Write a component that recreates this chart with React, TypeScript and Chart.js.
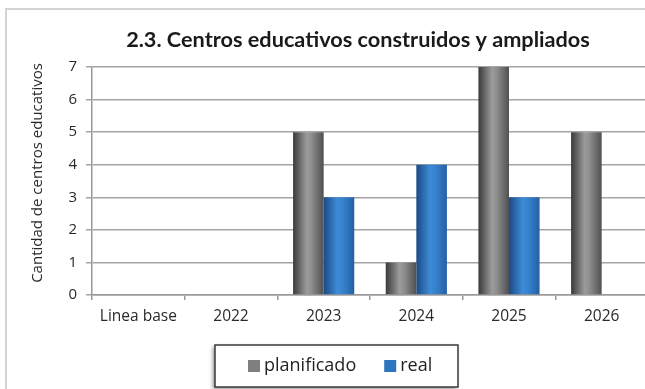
import React, { useEffect, useRef } from "react";
import { Chart, registerables } from "chart.js";

Chart.register(...registerables);

const categories = ["Linea base", "2022", "2023", "2024", "2025", "2026"];
const planificado: (number | null)[] = [null, null, 5, 1, 7, 5];
const real: (number | null)[] = [null, null, 3, 4, 3, null];
const seriesNames = ["planificado", "real"];
const titleText = "2.3. Centros educativos construidos y ampliados";
const yAxisTitle = "Cantidad de centros educativos";
const yMin = 0;
const yMax = 7;
const yStep = 1;

const SERIES_COLORS = ["#7f7f7f", "#2e75c0"];
const GRADIENTS = [
  [
    [0, "#3a3a3a"],
    [0.45, "#9c9c9c"],
    [0.6, "#8e8e8e"],
    [1, "#505050"],
  ],
  [
    [0, "#1c4a86"],
    [0.45, "#3d8bd6"],
    [0.65, "#3580cc"],
    [1, "#245fa4"],
  ],
];

const FONT = "'Open Sans', 'DejaVu Sans', sans-serif";

const framePlugin = {
  id: "frame",
  beforeDraw(chart: any) {
    const { ctx, width, height } = chart;
    ctx.save();
    ctx.fillStyle = "#ffffff";
    ctx.fillRect(0, 0, width, height);
    ctx.strokeStyle = "#d4d4d4";
    ctx.lineWidth = 2;
    ctx.strokeRect(6, 9, width + 20, height + 20);
    ctx.restore();
  },
};

const gradientPlugin = {
  id: "barGradient",
  beforeDatasetsDraw(chart: any) {
    const ctx = chart.ctx;
    chart.data.datasets.forEach((_: any, di: number) => {
      const meta = chart.getDatasetMeta(di);
      meta.data.forEach((bar: any) => {
        const { x, width } = bar.getProps(["x", "width"], true);
        if (!isFinite(x) || !isFinite(width)) return;
        const g = ctx.createLinearGradient(x - width / 2, 0, x + width / 2, 0);
        GRADIENTS[di].forEach(([s, c]: any) => g.addColorStop(s, c));
        bar.options.backgroundColor = g;
      });
    });
  },
};

const titlePlugin = {
  id: "customTitle",
  afterDraw(chart: any) {
    const { ctx } = chart;
    ctx.save();
    ctx.font = "bold 21.7px Lato, 'Open Sans', sans-serif";
    ctx.fillStyle = "#1a1a1a";
    ctx.textAlign = "center";
    ctx.textBaseline = "middle";
    ctx.fillText(titleText, 358, 40);
    // y axis title
    ctx.font = "15px " + FONT;
    ctx.fillStyle = "#2a2a2a";
    ctx.translate(38, 173);
    ctx.rotate(-Math.PI / 2);
    ctx.fillText(yAxisTitle, 0, 0);
    ctx.restore();
  },
};

const legendPlugin = {
  id: "customLegend",
  afterDraw(chart: any) {
    const { ctx } = chart;
    ctx.save();
    const bx = 215;
    const by = 345;
    const bw = 243;
    const bh = 42;
    ctx.shadowColor = "rgba(0,0,0,0.45)";
    ctx.shadowBlur = 4;
    ctx.shadowOffsetX = -2;
    ctx.shadowOffsetY = 2;
    ctx.fillStyle = "#ffffff";
    ctx.fillRect(bx, by, bw, bh);
    ctx.shadowColor = "transparent";
    ctx.strokeStyle = "#3a3a3a";
    ctx.lineWidth = 1.5;
    ctx.strokeRect(bx, by, bw, bh);

    ctx.font = "18px " + FONT;
    ctx.textBaseline = "middle";
    ctx.textAlign = "left";
    const cy = 366;
    let x = bx + 33;
    seriesNames.forEach((name, i) => {
      ctx.fillStyle = SERIES_COLORS[i];
      ctx.fillRect(x, cy - 6, 12, 12);
      ctx.fillStyle = "#1f1f1f";
      ctx.fillText(name, x + 16, cy);
      x += 16 + ctx.measureText(name).width + 28;
    });
    ctx.restore();
  },
};

export default function App() {
  const ref = useRef<HTMLCanvasElement>(null);

  useEffect(() => {
    document.body.style.margin = "0";
    const canvas = ref.current!;
    const chart = new Chart(canvas, {
      type: "bar",
      data: {
        labels: categories,
        datasets: [
          {
            label: seriesNames[0],
            data: planificado,
            backgroundColor: () => SERIES_COLORS[0],
            borderWidth: 0,
            categoryPercentage: 0.66,
            barPercentage: 1.0,
          },
          {
            label: seriesNames[1],
            data: real,
            backgroundColor: () => SERIES_COLORS[1],
            borderWidth: 0,
            categoryPercentage: 0.66,
            barPercentage: 1.0,
          },
        ],
      },
      options: {
        responsive: false,
        animation: false,
        devicePixelRatio: 1,
        layout: { padding: { top: 67, bottom: 64, left: 0, right: 0 } },
        plugins: {
          legend: { display: false },
          title: { display: false },
          tooltip: { enabled: false },
        },
        scales: {
          x: {
            grid: {
              display: true,
              drawOnChartArea: false,
              drawTicks: true,
              tickLength: 5,
              color: "#999999",
              lineWidth: 1.5,
              offset: true,
            },
            border: { color: "#999999", width: 1.5 },
            ticks: {
              font: { family: FONT, size: 15.5 },
              color: "#2a2a2a",
              padding: 7,
              maxRotation: 0,
            },
            afterFit: (s: any) => {
              s.height = 30;
            },
          },
          y: {
            min: yMin,
            max: yMax,
            ticks: {
              stepSize: yStep,
              font: { family: FONT, size: 15 },
              color: "#2a2a2a",
              padding: 9,
            },
            grid: {
              color: "#a4a4a4",
              lineWidth: 1.5,
              tickLength: 6,
            },
            border: { color: "#999999", width: 1.5 },
            title: { display: false, text: yAxisTitle },
            afterFit: (s: any) => {
              s.width = 92;
            },
          },
        },
      },
      plugins: [framePlugin, gradientPlugin, titlePlugin, legendPlugin],
    });
    return () => chart.destroy();
  }, []);

  return (
    <div style={{ width: 645, height: 389, overflow: "hidden", position: "relative" }}>
      <canvas ref={ref} width={648} height={389} style={{ display: "block" }} />
    </div>
  );
}
